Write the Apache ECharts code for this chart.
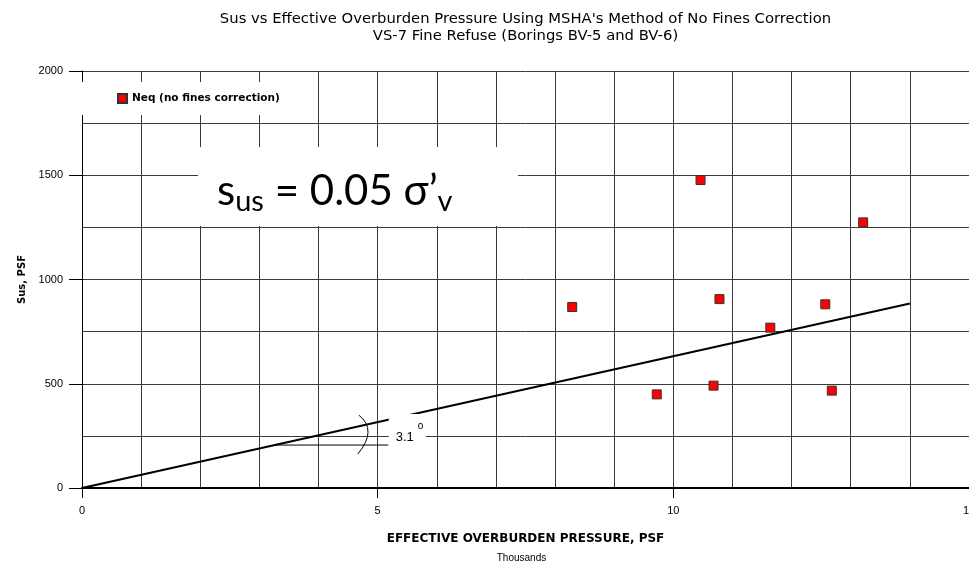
<!DOCTYPE html>
<html>
<head>
<meta charset="utf-8">
<script src="https://cdn.jsdelivr.net/npm/echarts@6/dist/echarts.min.js"></script>
<style>html,body{margin:0;padding:0;background:#fff;overflow:hidden}#c{width:969px;height:564px}</style>
</head>
<body>
<div id="c"></div>
<script>
// ---- data ----
const titleLines = ["Sus vs Effective Overburden Pressure Using MSHA's Method of No Fines Correction", "VS-7 Fine Refuse (Borings BV-5 and BV-6)"];
const seriesName = "Neq (no fines correction)";
const xName = "EFFECTIVE OVERBURDEN PRESSURE, PSF";
const xUnit = "Thousands";
const yName = "Sus, PSF";
// effective overburden pressure (thousands psf)
const pointX = [8.29, 9.72, 10.46, 10.68, 10.78, 11.64, 12.57, 12.68, 13.21];
// Sus (psf)
const pointY = [868, 449, 1477, 491, 906, 769, 881, 467, 1274];
// trend line s_us = 0.05 sigma'v (as drawn)
const trendX = [0, 14];
const trendY = [0, 885];
// horizontal reference line of angle annotation
const refX = [3.26, 5.18];
const refY = [206, 206];
const angleLabel = "3.1";
const xTicks = {min: 0, max: 15, step: 5, minorStep: 1};
const yTicks = {min: 0, max: 2000, step: 500, minorStep: 250};

const FONT = "'Liberation Sans', Arial, sans-serif";
const WIDE = "'DejaVu Sans', Verdana, sans-serif";
const chart = echarts.init(document.getElementById('c'), null, {renderer: 'canvas', width: 969, height: 564});
const gridColor = '#3a3a3a';

const option = {
  animation: false,
  backgroundColor: '#fff',
  grid: {left: 82, right: 0, top: 71, bottom: 76, containLabel: false, outerBoundsMode: 'none'},
  legend: {
    data: [seriesName],
    left: 82, top: 82,
    padding: [11, 17, 11, 35],
    backgroundColor: '#fff',
    itemWidth: 9, itemHeight: 9,
    icon: 'rect',
    textStyle: {fontFamily: WIDE, fontSize: 10.5, fontWeight: 'bold', color: '#000'}
  },
  xAxis: {
    type: 'value', min: xTicks.min, max: xTicks.max, interval: xTicks.step,
    name: xName, nameLocation: 'middle', nameGap: 45,
    nameTextStyle: {fontFamily: WIDE, fontSize: 12, fontWeight: 'bold', color: '#000'},
    axisLine: {show: true, onZero: false, lineStyle: {color: '#000', width: 2}},
    axisTick: {show: true, length: 10, lineStyle: {color: '#000', width: 1}},
    axisLabel: {margin: 17, fontFamily: FONT, fontSize: 11, color: '#000', showMaxLabel: true},
    splitLine: {show: true, lineStyle: {color: gridColor, width: 1}},
    minorTick: {show: false, splitNumber: xTicks.step / xTicks.minorStep},
    minorSplitLine: {show: true, lineStyle: {color: gridColor, width: 1}}
  },
  yAxis: {
    type: 'value', min: yTicks.min, max: yTicks.max, interval: yTicks.step,
    name: yName, nameLocation: 'middle', nameGap: 53, nameRotate: 90,
    nameTextStyle: {fontFamily: WIDE, fontSize: 10, fontWeight: 'bold', color: '#000'},
    axisLine: {show: true, lineStyle: {color: '#000', width: 1}},
    axisTick: {show: true, length: 13, lineStyle: {color: '#000', width: 1}},
    axisLabel: {margin: 19, fontFamily: FONT, fontSize: 11, color: '#000', formatter: v => String(v)},
    splitLine: {show: true, lineStyle: {color: gridColor, width: 1}},
    minorTick: {show: false, splitNumber: yTicks.step / yTicks.minorStep},
    minorSplitLine: {show: true, lineStyle: {color: gridColor, width: 1}}
  },
  series: [
    {
      type: 'line', name: 'trend', data: trendX.map((x, i) => [x, trendY[i]]),
      showSymbol: false, symbol: 'none', lineStyle: {color: '#000', width: 2}, z: 3, silent: true
    },
    {
      type: 'line', name: 'ref', data: refX.map((x, i) => [x, refY[i]]),
      showSymbol: false, symbol: 'none', lineStyle: {color: '#000', width: 1}, z: 3, silent: true
    },
    {
      type: 'scatter', name: seriesName, data: pointX.map((x, i) => [x, pointY[i]]),
      symbol: 'rect', symbolSize: 9,
      itemStyle: {color: '#ff0000', borderColor: '#333', borderWidth: 1, opacity: 1}, z: 5
    }
  ]
};
chart.setOption(option);

// annotations anchored to data
const anchor = chart.convertToPixel({gridIndex: 0}, [refX[0], refY[0]]);
const ax = anchor[0], ay = anchor[1];
const plotCenterX = (chart.convertToPixel({gridIndex: 0}, [xTicks.min, 0])[0] + chart.convertToPixel({gridIndex: 0}, [xTicks.max, 0])[0]) / 2;
chart.setOption({
  graphic: [
    {type: 'text', x: plotCenterX, y: 19, z: 50, style: {text: titleLines[0], font: "14.8px " + WIDE, fill: '#000', textAlign: 'center', textVerticalAlign: 'middle'}},
    {type: 'text', x: plotCenterX, y: 36, z: 50, style: {text: titleLines[1], font: "14.8px " + WIDE, fill: '#000', textAlign: 'center', textVerticalAlign: 'middle'}},
    {type: 'text', x: plotCenterX - 4, y: 558, z: 50, style: {text: xUnit, font: "10px " + FONT, fill: '#000', textAlign: 'center', textVerticalAlign: 'middle'}},
    // formula box
    {type: 'rect', z: 60, shape: {x: 198, y: 147, width: 320, height: 79}, style: {fill: '#fff'}},
    {type: 'text', z: 61, x: 217, y: 166, style: {
      text: '{m|s}{s|us}{m| = 0.05 σ’}{s|v}',
      rich: {
        m: {fontFamily: 'Lato, sans-serif', fontSize: 42, lineHeight: 50, fill: '#000', verticalAlign: 'middle'},
        s: {fontFamily: 'Lato, sans-serif', fontSize: 29, lineHeight: 22, fill: '#000', verticalAlign: 'bottom'}
      }
    }},
    // angle arc
    {type: 'bezierCurve', z: 60, shape: {x1: ax + 84, y1: ay - 30, x2: ax + 83, y2: ay + 9, cpx1: ax + 103, cpy1: ay - 15}, style: {stroke: '#000', lineWidth: 1, fill: null}},
    // angle label box
    {type: 'rect', z: 60, shape: {x: ax + 114, y: ay - 31, width: 37, height: 33}, style: {fill: '#fff'}},
    {type: 'text', z: 61, x: ax + 121, y: ay - 1, style: {
      text: angleLabel, font: "13px " + FONT, fill: '#000', textVerticalAlign: 'bottom'
    }},
    {type: 'text', z: 61, x: ax + 143, y: ay - 14, style: {
      text: 'o', font: "10px " + FONT, fill: '#000', textVerticalAlign: 'bottom'
    }}
  ]
});
</script>
</body>
</html>
